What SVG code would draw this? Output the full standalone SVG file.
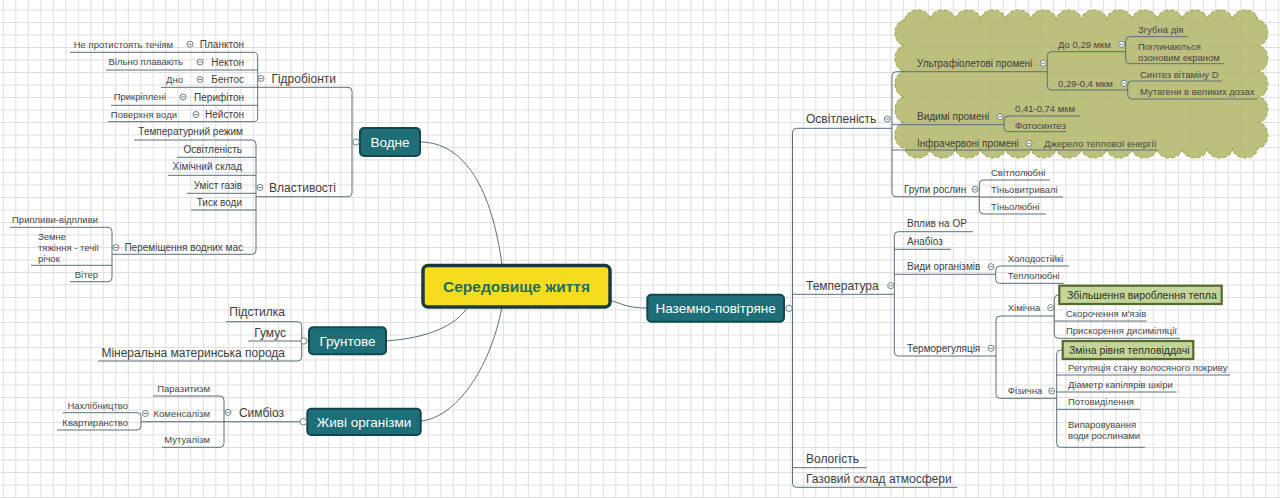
<svg xmlns="http://www.w3.org/2000/svg" width="1280" height="498" viewBox="0 0 1280 498">
<defs>
<pattern id="grid" patternUnits="userSpaceOnUse" x="2.8" y="9.5" width="12.5" height="12.5">
<rect x="0" y="0" width="1" height="12.5" fill="#dedede"/>
<rect x="0" y="0" width="12.5" height="1" fill="#dedede"/>
</pattern>
</defs>
<style>
text{font-family:"Liberation Sans",Arial,sans-serif;fill:#3d3d3d}
.l1{font-size:12px}
.l2{font-size:10px}
.l3{font-size:9.5px;fill:#474747}
.e{text-anchor:end}
.box{fill:#1e6e78;stroke:#12474f;stroke-width:2}
.bt{font-size:13.5px;fill:#ffffff;text-anchor:middle}
.hl{fill:#c3d59a;stroke:#56692c;stroke-width:2.2}
.hlt{font-size:10.5px;fill:#2e3320}
.con path{fill:none;stroke:#587079;stroke-width:1}
.curve{fill:none;stroke:#5b686c;stroke-width:1}
.tg{fill:#ffffff;stroke:#6f8188;stroke-width:1}
.tm{stroke:#6f8188;stroke-width:1}
</style>
<rect width="1280" height="498" fill="#ffffff"/>
<rect width="1280" height="498" fill="url(#grid)"/>

<!-- cloud -->
<path id="cloud" d="M905,20 a12.6,10 0 0,1 25.2,0 a12.6,10 0 0,1 25.2,0 a12.6,10 0 0,1 25.2,0 a12.6,10 0 0,1 25.2,0 a12.6,10 0 0,1 25.2,0 a12.6,10 0 0,1 25.2,0 a12.6,10 0 0,1 25.2,0 a12.6,10 0 0,1 25.2,0 a12.6,10 0 0,1 25.2,0 a12.6,10 0 0,1 25.2,0 a12.6,10 0 0,1 25.2,0 a12.6,10 0 0,1 25.2,0 a12.6,10 0 0,1 25.2,0 a12.6,10 0 0,1 25.2,0 a10,12.8 0 0,1 0,25.6 a10,12.8 0 0,1 0,25.6 a10,12.8 0 0,1 0,25.6 a10,12.8 0 0,1 0,25.6 a10,12.8 0 0,1 0,25.6 a12.6,10 0 0,1 -25.2,0 a12.6,10 0 0,1 -25.2,0 a12.6,10 0 0,1 -25.2,0 a12.6,10 0 0,1 -25.2,0 a12.6,10 0 0,1 -25.2,0 a12.6,10 0 0,1 -25.2,0 a12.6,10 0 0,1 -25.2,0 a12.6,10 0 0,1 -25.2,0 a12.6,10 0 0,1 -25.2,0 a12.6,10 0 0,1 -25.2,0 a12.6,10 0 0,1 -25.2,0 a12.6,10 0 0,1 -25.2,0 a12.6,10 0 0,1 -25.2,0 a12.6,10 0 0,1 -25.2,0 a10,12.8 0 0,1 0,-25.6 a10,12.8 0 0,1 0,-25.6 a10,12.8 0 0,1 0,-25.6 a10,12.8 0 0,1 0,-25.6 a10,12.8 0 0,1 0,-25.6 Z" fill="#b5b870" fill-opacity="0.9" stroke="#98a33e" stroke-width="1" stroke-dasharray="4 2"/>

<g id="connectors" class="con">
<path class="curve" d="M420,142 C465,142 492,190 502,265"/>
<path class="curve" d="M610,300 C626,306 632,308 647,308"/>
<path class="curve" d="M386,341 C428,338 455,326 468,307"/>
<path class="curve" d="M420.7,421 C455,418 490,370 502,307"/>
<path d="M161,87.3 H348 Q352,87.3 352,91.3 V192.7 Q352,196.7 348,196.7 H256 M352,142 H356"/>
<path d="M70,52.3 H253.7 Q257.7,52.3 257.7,56.3 V117.7 Q257.7,121.7 253.7,121.7 H108 M106,70 H257.7 M111,105.3 H257.7"/>
<path d="M134,140 H252 Q256,140 256,144 V250.3 Q256,254.3 252,254.3 H112 M177,157.3 H256 M168,175.3 H256 M187,193.3 H256 M191,210 H256"/>
<path d="M10,227.3 H108 Q112,227.3 112,231.3 V277.7 Q112,281.7 108,281.7 H70 M31,265.3 H112"/>
<path d="M226,321.7 H297.7 Q301.7,321.7 301.7,325.7 V357 Q301.7,361 297.7,361 H98 M248,341 H305"/>
<path d="M153,396 H220 Q224,396 224,400 V443.3 Q224,447.3 220,447.3 H162 M141,421.7 H303"/>
<path d="M63,412.7 H137 Q141,412.7 141,416.7 V426 Q141,430 137,430 H57"/>
<path d="M892,128.3 H796.5 Q792.5,128.3 792.5,132.3 V483.3 Q792.5,487.3 796.5,487.3 H957.3 M792.5,294.3 H894.3 M792.5,467.7 H866.7 M789,308.3 H792.5"/>
<path d="M1047.3,71.7 H896 Q892,71.7 892,75.7 V192.7 Q892,196.7 896,196.7 H979.3 M892,124.7 H1004 M892,150 H1157"/>
<path d="M1125.7,51.7 H1051.3 Q1047.3,51.7 1047.3,55.7 V86 Q1047.3,90 1051.3,90 H1127.7"/>
<path d="M1188,36.7 H1129.7 Q1125.7,36.7 1125.7,40.7 V59.7 Q1125.7,63.7 1129.7,63.7 H1224"/>
<path d="M1222,81 H1131.7 Q1127.7,81 1127.7,85 V95 Q1127.7,99 1131.7,99 H1257"/>
<path d="M1080,116 H1008 Q1004,116 1004,120 V127.7 Q1004,131.7 1008,131.7 H1066"/>
<path d="M1050,180 H983.3 Q979.3,180 979.3,184 V210 Q979.3,214 983.3,214 H1046 M979.3,197 H1063"/>
<path d="M973,231.7 H898.3 Q894.3,231.7 894.3,235.7 V352 Q894.3,356 898.3,356 H996 M894.3,249.3 H951 M894.3,274.3 H995.7"/>
<path d="M1069,266 H999.7 Q995.7,266 995.7,270 V279.3 Q995.7,283.3 999.7,283.3 H1064"/>
<path d="M1054.3,316 H1000 Q996,316 996,320 V394.3 Q996,398.3 1000,398.3 H1056.7"/>
<path d="M1059.3,295 H1058.3 Q1054.3,295 1054.3,299 V334.3 Q1054.3,338.3 1058.3,338.3 H1180 M1054.3,321 H1146.7"/>
<path d="M1062.7,350 H1060.7 Q1056.7,350 1056.7,354 V443.3 Q1056.7,447.3 1060.7,447.3 H1145 M1056.7,375 H1230 M1056.7,392 H1176.7 M1056.7,409.3 H1140"/>
</g>

<!-- central -->
<g id="n-center">
<rect x="423" y="265.5" width="187" height="41.5" rx="5" fill="#f4dc1e" stroke="#1b3a3c" stroke-width="3.5"/>
<text x="516.5" y="291.5" text-anchor="middle" style="font-size:15.5px;font-weight:bold;fill:#1f6e5d">Середовище життя</text>
</g>

<!-- Водне -->
<g id="n-vodne">
<rect class="box" x="360" y="128" width="60" height="28" rx="4"/>
<text class="bt" x="390" y="146.8">Водне</text>
<circle class="tg" cx="356" cy="142" r="3.2"/>
</g>
<g id="n-hidrobionty"><text class="l1 e" x="336" y="82.5">Гідробіонти</text><circle class="tg" cx="261" cy="78.5" r="3"/><path class="tm" d="M259.2,78.5 H262.8"/></g>
<g id="n-plankton"><text class="l2 e" x="244" y="47.9">Планктон</text><circle class="tg" cx="190" cy="44.3" r="3"/><path class="tm" d="M188.2,44.3 H191.8"/></g>
<g id="n-plankton-1"><text class="l3 e" x="173" y="47.7">Не протистоять течіям</text></g>
<g id="n-nekton"><text class="l2 e" x="244" y="65.6">Нектон</text><circle class="tg" cx="200" cy="62" r="3"/><path class="tm" d="M198.2,62 H201.8"/></g>
<g id="n-nekton-1"><text class="l3 e" x="183" y="65.4">Вільно плавають</text></g>
<g id="n-bentos"><text class="l2 e" x="244" y="83.1">Бентос</text><circle class="tg" cx="200" cy="79.5" r="3"/><path class="tm" d="M198.2,79.5 H201.8"/></g>
<g id="n-bentos-1"><text class="l3 e" x="183" y="82.9">Дно</text></g>
<g id="n-perifiton"><text class="l2 e" x="244" y="100.6">Перифітон</text><circle class="tg" cx="183" cy="97" r="3"/><path class="tm" d="M181.2,97 H184.8"/></g>
<g id="n-perifiton-1"><text class="l3 e" x="166" y="100.4">Прикріплені</text></g>
<g id="n-neiston"><text class="l2 e" x="244" y="118.1">Нейстон</text><circle class="tg" cx="196" cy="114.5" r="3"/><path class="tm" d="M194.2,114.5 H197.8"/></g>
<g id="n-neiston-1"><text class="l3 e" x="177" y="117.9">Поверхня води</text></g>

<g id="n-vlastyvosti"><text class="l1 e" x="336" y="191.6">Властивості</text><circle class="tg" cx="260" cy="187.5" r="3"/><path class="tm" d="M258.2,187.5 H261.8"/></g>
<g id="n-temp-rezhym"><text class="l2 e" x="243" y="135.3">Температурний режим</text></g>
<g id="n-osvitl-v"><text class="l2 e" x="242" y="152.6">Освітленість</text></g>
<g id="n-khim"><text class="l2 e" x="242" y="170.3">Хімічний склад</text></g>
<g id="n-gazy"><text class="l2 e" x="242" y="188.6">Уміст газів</text></g>
<g id="n-tysk"><text class="l2 e" x="242" y="206.3">Тиск води</text></g>
<g id="n-peremishch"><text class="l2 e" x="243" y="251.3">Переміщення водних мас</text><circle class="tg" cx="116" cy="247.5" r="3"/><path class="tm" d="M114.2,247.5 H117.8"/></g>
<g id="n-pryplyvy"><text class="l3 e" x="98" y="223.4">Припливи-відпливи</text></g>
<g id="n-zemne"><text class="l3" x="38" y="239.5">Земне<tspan x="38" dy="11.2">тяжіння - течії</tspan><tspan x="38" dy="11.2">річок</tspan></text></g>
<g id="n-viter"><text class="l3 e" x="98" y="278.4">Вітер</text></g>

<!-- Грунтове -->
<g id="n-hruntove">
<rect class="box" x="309" y="327.3" width="77" height="27" rx="4"/>
<text class="bt" x="347.5" y="345.8">Грунтове</text>
<circle class="tg" cx="304" cy="341" r="3.2"/>
</g>
<g id="n-pidstylka"><text class="l1 e" x="285" y="316">Підстилка</text></g>
<g id="n-humus"><text class="l1 e" x="286" y="336.6">Гумус</text></g>
<g id="n-mineral"><text class="l1 e" x="285" y="356.6">Мінеральна материнська порода</text></g>

<!-- Живі організми -->
<g id="n-zhyvi">
<rect class="box" x="307.3" y="408.7" width="113.4" height="26.3" rx="4"/>
<text class="bt" x="364" y="426.6">Живі організми</text>
<circle class="tg" cx="303.3" cy="421.7" r="3.2"/>
</g>
<g id="n-symbioz"><text class="l1 e" x="284" y="416.6">Симбіоз</text><circle class="tg" cx="228" cy="412.3" r="3"/><path class="tm" d="M226.2,412.3 H229.8"/></g>
<g id="n-parazytyzm"><text class="l3 e" x="210" y="392.4">Паразитизм</text></g>
<g id="n-komensalizm"><text class="l3 e" x="210" y="416.7">Коменсалізм</text><circle class="tg" cx="145.3" cy="413.5" r="3"/><path class="tm" d="M143.5,413.5 H147.1"/></g>
<g id="n-nakhlib"><text class="l3 e" x="128" y="409.1">Нахлібництво</text></g>
<g id="n-kvartyr"><text class="l3 e" x="128" y="426.1">Квартиранство</text></g>
<g id="n-mutualizm"><text class="l3 e" x="210" y="443.4">Мутуалізм</text></g>

<!-- Наземно-повітряне -->
<g id="n-nazemno">
<rect class="box" x="647.3" y="294.7" width="136.7" height="27" rx="4"/>
<text class="bt" x="715.6" y="313">Наземно-повітряне</text>
<circle class="tg" cx="789" cy="308.3" r="3.2"/>
</g>
<g id="n-osvitlenist"><text class="l1" x="806" y="123.3">Освітленість</text><circle class="tg" cx="887.3" cy="119" r="3"/><path class="tm" d="M885.5,119 H889.1"/></g>
<g id="n-uf"><text class="l2" x="917" y="66.9">Ультрафіолетові промені</text><circle class="tg" cx="1043.3" cy="63.3" r="3"/><path class="tm" d="M1041.5,63.3 H1045.1"/></g>
<g id="n-do029"><text class="l3" x="1058" y="47.7">До 0,29 мкм</text><circle class="tg" cx="1121.7" cy="44.3" r="3"/><path class="tm" d="M1119.9,44.3 H1123.5"/></g>
<g id="n-zgubna"><text class="l3" x="1138" y="33.4">Згубна дія</text></g>
<g id="n-pohlyn"><text class="l3" x="1138" y="50.1">Поглинаються<tspan x="1138" dy="11">озоновим екраном</tspan></text></g>
<g id="n-029-04"><text class="l3" x="1058" y="86.7">0,29-0,4 мкм</text><circle class="tg" cx="1124" cy="83.3" r="3"/><path class="tm" d="M1122.2,83.3 H1125.8"/></g>
<g id="n-syntez"><text class="l3" x="1140" y="78.4">Синтез вітаміну D</text></g>
<g id="n-mutageny"><text class="l3" x="1140" y="95.1">Мутагени в великих дозах</text></g>
<g id="n-vydymi"><text class="l2" x="917" y="120.3">Видимі промені</text><circle class="tg" cx="1000" cy="116.7" r="3"/><path class="tm" d="M998.2,116.7 H1001.8"/></g>
<g id="n-041"><text class="l3" x="1015" y="111.7">0,41-0,74 мкм</text></g>
<g id="n-fotosyntez"><text class="l3" x="1015" y="129.4">Фотосинтез</text></g>
<g id="n-ich"><text class="l2" x="917" y="146.9">Інфрачервоні промені</text><circle class="tg" cx="1029" cy="143.3" r="3"/><path class="tm" d="M1027.2,143.3 H1030.8"/></g>
<g id="n-dzherelo"><text class="l3" x="1044" y="146.7">Джерело теплової енергії</text></g>
<g id="n-hrupy"><text class="l2" x="904" y="192.9">Групи рослин</text><circle class="tg" cx="975" cy="189.3" r="3"/><path class="tm" d="M973.2,189.3 H976.8"/></g>
<g id="n-svitlo"><text class="l3" x="991" y="176.1">Світлолюбні</text></g>
<g id="n-tinvytr"><text class="l3" x="991" y="192.7">Тіньовитривалі</text></g>
<g id="n-tinlub"><text class="l3" x="991" y="210.1">Тіньолюбні</text></g>

<g id="n-temperatura"><text class="l1" x="806" y="290">Температура</text><circle class="tg" cx="890.7" cy="285.7" r="3"/><path class="tm" d="M888.9,285.7 H892.5"/></g>
<g id="n-vplyv"><text class="l2" x="907" y="226.9">Вплив на ОР</text></g>
<g id="n-anabioz"><text class="l2" x="907" y="244.6">Анабіоз</text></g>
<g id="n-vydy"><text class="l2" x="907" y="270.3">Види організмів</text><circle class="tg" cx="991" cy="266.7" r="3"/><path class="tm" d="M989.2,266.7 H992.8"/></g>
<g id="n-kholod"><text class="l3" x="1007.7" y="261.7">Холодостійкі</text></g>
<g id="n-teplolub"><text class="l3" x="1007.7" y="279.1">Теплолюбні</text></g>
<g id="n-termoreg"><text class="l2" x="907" y="351.9">Терморегуляція</text><circle class="tg" cx="991" cy="348.3" r="3"/><path class="tm" d="M989.2,348.3 H992.8"/></g>
<g id="n-khimichna"><text class="l3" x="1007.7" y="311.1">Хімічна</text><circle class="tg" cx="1050.7" cy="307.7" r="3"/><path class="tm" d="M1048.9,307.7 H1052.5"/></g>
<g id="n-zbilsh">
<rect class="hl" x="1059.3" y="285.7" width="162.4" height="18.3"/>
<text class="hlt" x="1067" y="298.8">Збільшення вироблення тепла</text>
</g>
<g id="n-skorochennia"><text class="l3" x="1066" y="316.7">Скорочення м'язів</text></g>
<g id="n-pryskor"><text class="l3" x="1066" y="334.1">Прискорення дисиміляції</text></g>
<g id="n-fizychna"><text class="l3" x="1007.7" y="394.4">Фізична</text><circle class="tg" cx="1051.7" cy="391" r="3"/><path class="tm" d="M1049.9,391 H1053.5"/></g>
<g id="n-zmina">
<rect class="hl" x="1062.7" y="341" width="130.6" height="18"/>
<text class="hlt" x="1069" y="353.8">Зміна рівня тепловіддачі</text>
</g>
<g id="n-rehul"><text class="l3" x="1068" y="371.1">Регуляція стану волосяного покриву</text></g>
<g id="n-diametr"><text class="l3" x="1068" y="387.7">Діаметр капілярів шкіри</text></g>
<g id="n-potovyd"><text class="l3" x="1068" y="405.1">Потовиділення</text></g>
<g id="n-vyparov"><text class="l3" x="1068" y="428.4">Випаровування<tspan x="1068" dy="11">води рослинами</tspan></text></g>

<g id="n-volohist"><text class="l1" x="806" y="463.3">Вологість</text></g>
<g id="n-gazovyi"><text class="l1" x="806" y="483.3">Газовий склад атмосфери</text></g>
</svg>
